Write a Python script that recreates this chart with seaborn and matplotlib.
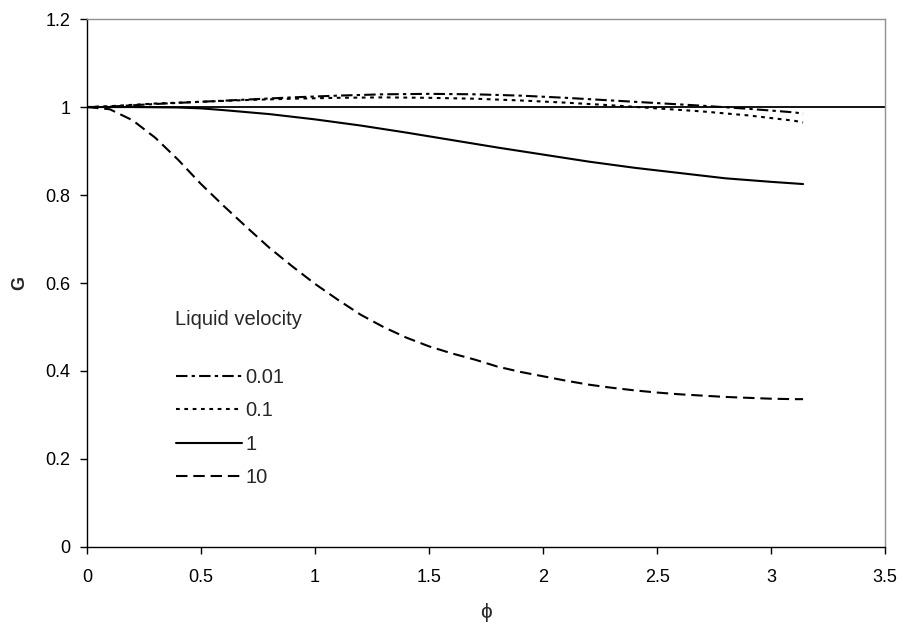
import numpy as np
import pandas as pd
import matplotlib
matplotlib.use("Agg")
import matplotlib.pyplot as plt
from matplotlib.ticker import FuncFormatter
from matplotlib.lines import Line2D
import seaborn as sns

# Angular position phi and G values for each liquid velocity
phi_a = [0, 0.1, 0.2, 0.3, 0.5, 0.7, 0.9, 1.1, 1.3, 1.5, 1.7, 1.9, 2.1, 2.3,
         2.5, 2.7, 2.9, 3.0, 3.1, 3.14]
g_001 = [1.0, 1.001, 1.004, 1.007, 1.012, 1.017, 1.022, 1.026, 1.029, 1.030,
         1.029, 1.026, 1.021, 1.015, 1.009, 1.003, 0.996, 0.992, 0.988, 0.985]
g_01 = [1.0, 1.002, 1.005, 1.008, 1.012, 1.016, 1.019, 1.021, 1.022, 1.021,
        1.019, 1.015, 1.010, 1.004, 0.997, 0.990, 0.981, 0.975, 0.969, 0.965]

phi_b = [0, 0.2, 0.4, 0.5, 0.6, 0.8, 1.0, 1.2, 1.4, 1.6, 1.8, 2.0, 2.2, 2.4,
         2.6, 2.8, 3.0, 3.14]
g_1 = [1.0, 1.0, 0.999, 0.997, 0.993, 0.984, 0.972, 0.958, 0.942, 0.925,
       0.908, 0.892, 0.876, 0.862, 0.850, 0.838, 0.830, 0.825]

phi_c = [0, 0.1, 0.2, 0.3, 0.4, 0.5, 0.6, 0.7, 0.8, 0.9, 1.0, 1.1, 1.2, 1.3,
         1.4, 1.5, 1.6, 1.7, 1.8, 1.9, 2.0, 2.1, 2.2, 2.3, 2.4, 2.5, 2.6, 2.7,
         2.8, 2.9, 3.0, 3.1, 3.14]
g_10 = [1.0, 0.995, 0.97, 0.93, 0.88, 0.825, 0.775, 0.727, 0.68, 0.638,
        0.598, 0.562, 0.528, 0.50, 0.476, 0.456, 0.44, 0.426, 0.41, 0.398,
        0.388, 0.378, 0.369, 0.362, 0.356, 0.351, 0.347, 0.344, 0.341, 0.339,
        0.337, 0.336, 0.336]

velocities = ["0.01", "0.1", "1", "10"]
x_ticks = [0, 0.5, 1, 1.5, 2, 2.5, 3, 3.5]
y_ticks = [0, 0.2, 0.4, 0.6, 0.8, 1.0, 1.2]

df = pd.concat([
    pd.DataFrame({"phi": phi_a, "G": g_001, "velocity": "0.01"}),
    pd.DataFrame({"phi": phi_a, "G": g_01, "velocity": "0.1"}),
    pd.DataFrame({"phi": phi_b, "G": g_1, "velocity": "1"}),
    pd.DataFrame({"phi": phi_c, "G": g_10, "velocity": "10"}),
], ignore_index=True)

sns.set_theme(style="white")
plt.rcParams["font.family"] = ["Liberation Sans", "DejaVu Sans"]

dash_styles = {
    "0.01": (5.5, 2.0, 1.6, 2.0),
    "0.1": (1.8, 2.2),
    "1": "",
    "10": (5.5, 2.8),
}

fig = plt.figure(figsize=(9.06, 6.36), dpi=100)
ax = fig.add_axes([0.096, 0.140, 0.881, 0.830])

ax.axhline(1.0, color="black", lw=1.3, zorder=1)
sns.lineplot(data=df, x="phi", y="G", style="velocity", style_order=velocities,
             dashes=dash_styles, color="black", lw=1.5, sort=False,
             estimator=None, legend=False, ax=ax)

ax.set_xlim(0, 3.5)
ax.set_ylim(0, 1.2)
ax.set_xticks(x_ticks)
ax.set_yticks(y_ticks)
fmt = FuncFormatter(lambda v, p: f"{v:g}")
ax.xaxis.set_major_formatter(fmt)
ax.yaxis.set_major_formatter(fmt)
ax.tick_params(axis="both", direction="out", length=5, width=1, color="black",
               labelsize=13, labelcolor="black", bottom=True, left=True)
ax.tick_params(axis="x", pad=11)
ax.tick_params(axis="y", pad=7)

for side in ("left", "bottom"):
    ax.spines[side].set_color("black")
    ax.spines[side].set_linewidth(1.0)
for side in ("top", "right"):
    ax.spines[side].set_color("#909090")
    ax.spines[side].set_linewidth(1.0)

ax.set_ylabel("G", fontsize=13, fontweight="bold", labelpad=12)
ax.set_xlabel("\u03d5", fontsize=15, labelpad=12)

ax.text(0.386, 0.516, "Liquid velocity", fontsize=14.5, ha="left",
        va="center", transform=ax.transData)

handles = []
for v in velocities:
    if dash_styles[v]:
        handles.append(Line2D([0], [0], color="black", lw=1.5,
                              dashes=dash_styles[v]))
    else:
        handles.append(Line2D([0], [0], color="black", lw=1.5, linestyle="-"))
leg = ax.legend(handles, velocities, loc="upper left",
                bbox_to_anchor=(0.101, 0.355), frameon=False, fontsize=14.5,
                handlelength=3.3, handletextpad=0.15, labelspacing=0.72,
                borderaxespad=0)

fig.savefig("out.png", dpi=100, facecolor="white")
